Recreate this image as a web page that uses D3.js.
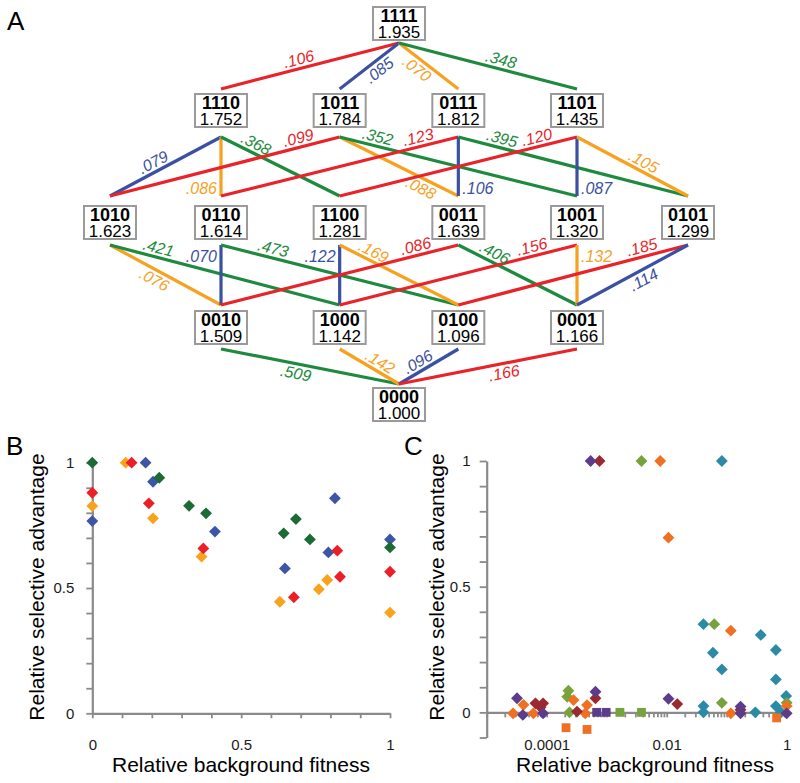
<!DOCTYPE html>
<html><head><meta charset="utf-8">
<script src="https://cdn.jsdelivr.net/npm/d3@7"></script>
<style>body{margin:0;background:#fff} svg{display:block}</style>
</head><body>
<svg id="chart" width="800" height="783"></svg>
<script>
// ================= DATA =================
// Panel A: genotypes and fitness
const genotypes = ["1111","1110","1011","0111","1101","1010","0110","1100","0011","1001","0101","0010","1000","0100","0001","0000"];
const fitness   = [1.935,1.752,1.784,1.812,1.435,1.623,1.614,1.281,1.639,1.320,1.299,1.509,1.142,1.096,1.166,1.000];
// Panel A: edges (single-mutation steps) and selection coefficients
const edgeFrom  = ["1111","1111","1111","1111","1110","1110","1110","1011","1011","1011","0111","0111","0111","1101","1101","1101",
                   "1010","1010","0110","0110","1100","1100","0011","0011","1001","1001","0101","0101","0010","1000","0100","0001"];
const edgeTo    = ["1110","1011","0111","1101","1010","0110","1100","1010","0011","1001","0110","0011","0101","1100","1001","0101",
                   "0010","1000","0010","0100","1000","0100","0010","0001","1000","0001","0100","0001","0000","0000","0000","0000"];
const edgeValue = [0.106,0.085,0.070,0.348,0.079,0.086,0.368,0.099,0.088,0.352,0.123,0.106,0.395,0.120,0.087,0.105,
                   0.076,0.421,0.070,0.473,0.122,0.169,0.086,0.406,0.156,0.132,0.185,0.114,0.509,0.142,0.096,0.166];

// Panel B: relative background fitness (x) and relative selective advantage (y)
const bGreenX  = [0, 0.225, 0.325, 0.382, 0.643, 0.684, 0.731, 1.0];
const bGreenY  = [1.0, 0.94, 0.828, 0.798, 0.718, 0.775, 0.694, 0.662];
const bBlueX   = [0, 0.179, 0.204, 0.412, 0.647, 0.793, 0.815, 1.0];
const bBlueY   = [0.767, 1.0, 0.924, 0.725, 0.578, 0.642, 0.858, 0.694];
const bRedX    = [0, 0.132, 0.190, 0.373, 0.677, 0.823, 0.832, 1.0];
const bRedY    = [0.88, 1.0, 0.838, 0.658, 0.463, 0.649, 0.545, 0.565];
const bOrangeX = [0, 0.112, 0.204, 0.367, 0.630, 0.761, 0.789, 1.0];
const bOrangeY = [0.827, 1.0, 0.778, 0.625, 0.445, 0.495, 0.532, 0.402];
const bXTickLabels = [0, 0.5, 1];
const bYTickLabels = [0, 0.5, 1];

// Panel C: log-scaled background fitness
const cPurpleX   = [5.4e-4, 3.2e-5, 4.0e-5, 8.7e-5, 6.5e-4, 0.0107, 0.17, 0.17, 1.0];
const cPurpleY   = [1.0, 0.056, -0.01, -0.004, 0.082, 0.054, 0.023, -0.004, -0.004];
const cPurpleSqX = [6.8e-4, 9.8e-4];
const cPurpleSqY = [0, 0];
const cDarkRedX  = [7.6e-4, 6.5e-5, 8.7e-5, 7.9e-5, 3.2e-4, 6.5e-4, 0.015, 0.17];
const cDarkRedY  = [1.0, 0.036, 0.036, 0.02, 0.003, 0.056, 0.033, 0.01];
const cGreenX    = [0.0038, 0.062, 0.083, 2.3e-4, 2.2e-4, 2.4e-4, 1.0];
const cGreenY    = [1.0, 0.351, 0.038, 0.086, 0.062, 0.0, 0.038];
const cGreenSqX  = [0.00166, 0.0038];
const cGreenSqY  = [0, 0];
const cOrangeX   = [0.0078, 0.0107, 0.117, 0.117, 2.75e-5, 4.1e-5, 6.0e-5, 2.8e-4, 4.7e-4, 4.4e-4, 1.0];
const cOrangeY   = [1.0, 0.695, 0.325, -0.004, -0.004, 0.03, -0.004, 0.049, 0.029, -0.004, 0.025];
const cOrangeSqX = [2.1e-4, 4.7e-4, 0.68];
const cOrangeSqY = [-0.061, -0.068, -0.022];
const cTealX     = [0.083, 0.041, 0.37, 0.059, 0.66, 0.083, 0.66, 0.98, 0.041, 0.041, 0.30, 0.66, 0.8];
const cTealY     = [1.0, 0.351, 0.308, 0.237, 0.248, 0.171, 0.131, 0.065, 0.025, 0.0, 0.0, 0.025, 0.0];
const cXTickValues = [1e-4, 1e-2, 1];
const cXTickLabels = ["0.0001", "0.01", "1"];
const cYTickLabels = [0, 0.5, 1];

// ================= LAYOUT / STYLE =================
const FONT = "'Liberation Sans', Arial, Helvetica, sans-serif";
const AXIS = "#8a8a8a";
const bitColors = ["#f6a11f", "#3b50a2", "#1d8a3e", "#e8242a"]; // bit1..bit4
const nodeColumn = [2.5,1,2,3,4,0,1,2,3,4,5,1,2,3,4,2.5];
// label placement: [fraction along edge, side]
const edgeLabelPos = [[0.55,"a"],[0.43,"b"],[0.40,"b"],[0.56,"a"],
  [0.57,"a"],[0.87,"l"],[0.26,"a"],[0.17,"a"],[0.72,"b"],[0.15,"a"],[0.16,"a"],[0.87,"r"],[0.18,"a"],[0.16,"a"],[0.87,"r"],[0.56,"a"],
  [0.44,"b"],[0.20,"a"],[0.19,"l"],[0.21,"a"],[0.19,"l"],[0.25,"a"],[0.17,"a"],[0.27,"a"],[0.18,"a"],[0.19,"r"],[0.19,"a"],[0.44,"b"],
  [0.43,"b"],[0.60,"a"],[0.60,"a"],[0.42,"b"]];

const svg = d3.select("#chart").style("font-family", FONT);

// ---------- Panel A ----------
const gA = svg.append("g");
const colX = d3.scaleLinear().domain([0,1,4,5]).range([110,221,577,688]);
const levelBoxTop = d3.scaleOrdinal().domain([0,1,2,3,4]).range([388,311,206,94,7]);
const attachTop = d3.scaleOrdinal().domain([0,1,2,3]).range([384,305,196,89]);
const attachBottom = d3.scaleOrdinal().domain([1,2,3,4]).range([349,245,137,43]);
const level = g => g.split("").filter(c => c === "1").length;
const idx = g => genotypes.indexOf(g);
const fmt3 = d3.format(".3f");
const BOXW = 52, BOXH = 33;

const edges = edgeFrom.map((f, i) => {
  const t = edgeTo[i];
  const bit = [0,1,2,3].find(k => f[k] !== t[k]);
  return {
    x1: colX(nodeColumn[idx(f)]), y1: attachBottom(level(f)),
    x2: colX(nodeColumn[idx(t)]), y2: attachTop(level(t)),
    color: bitColors[bit], value: edgeValue[i], pos: edgeLabelPos[i]
  };
});

gA.selectAll("line.edge").data(edges).join("line")
  .attr("x1", d => d.x1).attr("y1", d => d.y1)
  .attr("x2", d => d.x2).attr("y2", d => d.y2)
  .attr("stroke", d => d.color).attr("stroke-width", 3.2);

edges.forEach(e => {
  const [t, side] = e.pos;
  const px = e.x1 + t * (e.x2 - e.x1), py = e.y1 + t * (e.y2 - e.y1);
  const label = fmt3(e.value).replace(/^0/, "");
  if (side === "l" || side === "r") {
    gA.append("text").attr("x", side === "l" ? px - 4 : px + 4).attr("y", py + 5.5)
      .attr("text-anchor", side === "l" ? "end" : "start")
      .attr("font-size", 16).attr("font-style", "italic").attr("fill", e.color).text(label);
  } else {
    let ang = Math.atan2(e.y2 - e.y1, e.x2 - e.x1) * 180 / Math.PI;
    if (ang > 90) ang -= 180;
    if (ang < -90) ang += 180;
    gA.append("text").attr("transform", `translate(${px},${py}) rotate(${ang})`)
      .attr("y", side === "a" ? -4 : 15)
      .attr("text-anchor", "middle")
      .attr("font-size", 16).attr("font-style", "italic").attr("fill", e.color).text(label);
  }
});

const nodes = genotypes.map((g, i) => ({ g, f: fitness[i], cx: colX(nodeColumn[i]), top: levelBoxTop(level(g)) }));
const nodeG = gA.selectAll("g.node").data(nodes).join("g").attr("transform", d => `translate(${d.cx},${d.top})`);
nodeG.append("rect").attr("x", -BOXW/2).attr("y", 0).attr("width", BOXW).attr("height", BOXH)
  .attr("fill", "#fff").attr("stroke", "#9a9a9a").attr("stroke-width", 2);
nodeG.append("text").attr("y", 15).attr("text-anchor", "middle").attr("font-size", 18)
  .attr("font-weight", "bold").attr("fill", "#000").text(d => d.g);
nodeG.append("text").attr("y", 30.5).attr("text-anchor", "middle").attr("font-size", 17)
  .attr("fill", "#000").text(d => fmt3(d.f));

svg.append("text").attr("x", 7).attr("y", 30).attr("font-size", 26).text("A");

// ---------- Panel helpers ----------
function styleAxis(g) {
  g.select(".domain").attr("stroke", AXIS).attr("stroke-width", 2.2);
  g.selectAll(".tick line").attr("stroke", AXIS).attr("stroke-width", 1.8);
  g.selectAll(".tick text").attr("font-size", 15).attr("fill", "#1a1a1a").attr("font-family", FONT);
}
const diamond = d3.symbol().type(d3.symbolSquare).size(70);
const square = d3.symbol().type(d3.symbolSquare).size(78);
function plotSeries(g, xs, ys, sx, sy, color, shape) {
  g.selectAll(null).data(xs.map((x, i) => [x, ys[i]])).join("path")
    .attr("d", shape === "sq" ? square : diamond)
    .attr("transform", d => `translate(${sx(d[0])},${sy(d[1])})` + (shape === "sq" ? "" : " rotate(45)"))
    .attr("fill", color);
}
const near = (a, b) => Math.abs(a - b) < 1e-9;

// ---------- Panel B ----------
const gB = svg.append("g");
const bX = d3.scaleLinear().domain([0, 1]).range([92.3, 390]);
const bY = d3.scaleLinear().domain([0, 1]).range([713.3, 462.7]);
const tenths = d3.range(0, 11).map(i => i / 10);
gB.append("g").attr("transform", `translate(0,${bY(0)})`)
  .call(d3.axisBottom(bX).tickValues(tenths).tickSize(5).tickSizeOuter(0).tickPadding(21)
    .tickFormat(d => bXTickLabels.some(v => near(v, d)) ? d3.format("~g")(d) : ""))
  .call(styleAxis);
gB.append("g").attr("transform", `translate(${bX(0)},0)`)
  .call(d3.axisLeft(bY).tickValues(tenths).tickSize(6).tickSizeOuter(0).tickPadding(12)
    .tickFormat(d => bYTickLabels.some(v => near(v, d)) ? d3.format("~g")(d) : ""))
  .call(styleAxis);
plotSeries(gB, bBlueX, bBlueY, bX, bY, "#3d55a5");
plotSeries(gB, bOrangeX, bOrangeY, bX, bY, "#f9a31c");
plotSeries(gB, bRedX, bRedY, bX, bY, "#ea1f28");
plotSeries(gB, bGreenX, bGreenY, bX, bY, "#1c6b34");
gB.append("text").attr("x", 241).attr("y", 772).attr("text-anchor", "middle").attr("font-size", 21)
  .text("Relative background fitness");
gB.append("text").attr("transform", "translate(44,587) rotate(-90)").attr("text-anchor", "middle")
  .attr("font-size", 21).text("Relative selective advantage");
svg.append("text").attr("x", 6).attr("y", 455).attr("font-size", 26).text("B");

// ---------- Panel C ----------
const gC = svg.append("g");
const cX = d3.scaleLog().domain([1e-5, 1]).range([486.7, 786.7]);
const cY = d3.scaleLinear().domain([-0.1, 1]).range([737.5, 461]);
const logTicks = [];
for (let d = -5; d <= -1; d++) for (let k = 1; k <= 9; k++) logTicks.push(k * Math.pow(10, d));
logTicks.push(1);
gC.append("g").attr("transform", `translate(0,${cY(0)})`)
  .call(d3.axisBottom(cX).tickValues(logTicks).tickSize(5).tickSizeOuter(0).tickPadding(22)
    .tickFormat(d => { const j = cXTickValues.findIndex(v => Math.abs(Math.log10(v) - Math.log10(d)) < 1e-6); return j >= 0 ? cXTickLabels[j] : ""; }))
  .call(styleAxis);
gC.append("g").attr("transform", `translate(${cX.range()[0]},0)`)
  .call(d3.axisLeft(cY).tickValues(d3.range(-1, 11).map(i => i / 10)).tickSize(7).tickSizeOuter(0).tickPadding(9)
    .tickFormat(d => cYTickLabels.some(v => near(v, d)) ? d3.format("~g")(d) : ""))
  .call(styleAxis);
plotSeries(gC, cTealX, cTealY, cX, cY, "#2b8ba7");
plotSeries(gC, cGreenX, cGreenY, cX, cY, "#78a23b");
plotSeries(gC, cGreenSqX, cGreenSqY, cX, cY, "#78a23b", "sq");
plotSeries(gC, cOrangeX, cOrangeY, cX, cY, "#ef7023");
plotSeries(gC, cOrangeSqX, cOrangeSqY, cX, cY, "#ef7023", "sq");
plotSeries(gC, cDarkRedX, cDarkRedY, cX, cY, "#9b2a30");
plotSeries(gC, cPurpleX, cPurpleY, cX, cY, "#5d3c8c");
plotSeries(gC, cPurpleSqX, cPurpleSqY, cX, cY, "#5d3c8c", "sq");
gC.append("text").attr("x", 645).attr("y", 772).attr("text-anchor", "middle").attr("font-size", 21)
  .text("Relative background fitness");
gC.append("text").attr("transform", "translate(444,587) rotate(-90)").attr("text-anchor", "middle")
  .attr("font-size", 21).text("Relative selective advantage");
svg.append("text").attr("x", 404).attr("y", 455).attr("font-size", 26).text("C");
</script>
</body></html>
